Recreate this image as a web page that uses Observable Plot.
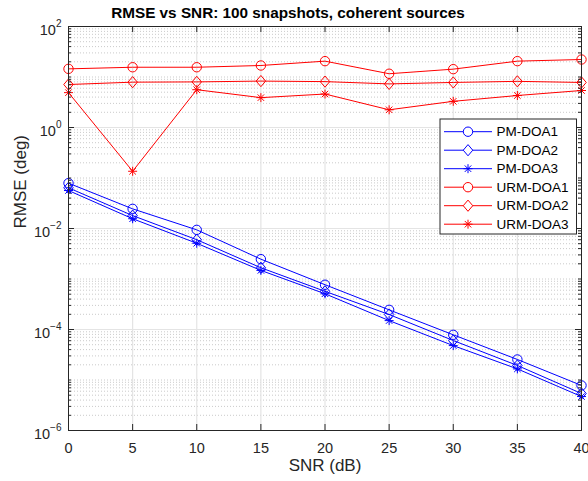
<!DOCTYPE html>
<html>
<head>
<meta charset="utf-8">
<script src="https://cdn.jsdelivr.net/npm/d3@7"></script>
<script src="https://cdn.jsdelivr.net/npm/@observablehq/plot@0.6"></script>
<style>
  html, body { margin: 0; padding: 0; background: #fff; }
  #chart { width: 588px; height: 481px; }
</style>
</head>
<body>
<div id="chart"></div>
<script>
// ---------- data ----------
const snr = [0, 5, 10, 15, 20, 25, 30, 35, 40];
const pmDoa1 = [0.079, 0.0245, 0.0094, 0.00247, 7.7e-4, 2.45e-4, 7.85e-5, 2.55e-5, 7.8e-6];
const pmDoa2 = [0.064, 0.018, 0.0060, 0.00167, 5.7e-4, 1.98e-4, 6.05e-5, 1.94e-5, 5.4e-6];
const pmDoa3 = [0.0565, 0.0156, 0.0051, 0.00148, 5.1e-4, 1.5e-4, 4.8e-5, 1.66e-5, 4.7e-6];
const urmDoa1 = [14.5, 15.6, 15.6, 16.9, 20.6, 11.6, 14.3, 20.6, 22.2];
const urmDoa2 = [7.1, 7.9, 8.0, 8.3, 8.1, 7.3, 7.8, 8.2, 7.8];
const urmDoa3 = [4.9, 0.136, 5.6, 3.9, 4.6, 2.24, 3.3, 4.3, 5.4];
const seriesNames = ["PM-DOA1", "PM-DOA2", "PM-DOA3", "URM-DOA1", "URM-DOA2", "URM-DOA3"];
const seriesValues = [pmDoa1, pmDoa2, pmDoa3, urmDoa1, urmDoa2, urmDoa3];

const xTicks = [0, 5, 10, 15, 20, 25, 30, 35, 40];
const yLabelTicks = [1e-6, 1e-4, 1e-2, 1, 1e2];
const yDecades = [1e-6, 1e-5, 1e-4, 1e-3, 1e-2, 1e-1, 1, 1e1, 1e2];
const minorMultipliers = [2, 3, 4, 5, 6, 7, 8, 9];

const titleText = "RMSE vs SNR: 100 snapshots, coherent sources";
const xLabelText = "SNR (dB)";
const yLabelText = "RMSE (deg)";

// ---------- styles ----------
const FONT = "'Liberation Sans', Arial, Helvetica, sans-serif";
const BLUE = "#0000ff", RED = "#ff0000", AX = "#262626";

const diamondSym = {
  draw(ctx, size) {
    const r = Math.sqrt(size / Math.PI);
    ctx.moveTo(0, -r * 1.12);
    ctx.lineTo(r * 0.95, 0);
    ctx.lineTo(0, r * 1.12);
    ctx.lineTo(-r * 0.95, 0);
    ctx.closePath();
  }
};
const starSym = {
  draw(ctx, size) {
    const r = Math.sqrt(size / Math.PI);
    const d = r * 0.72;
    ctx.moveTo(0, -r); ctx.lineTo(0, r);
    ctx.moveTo(-r, 0); ctx.lineTo(r, 0);
    ctx.moveTo(-d, -d); ctx.lineTo(d, d);
    ctx.moveTo(-d, d); ctx.lineTo(d, -d);
  }
};
const styles = [
  {color: BLUE, symbol: "circle", r: 4.7},
  {color: BLUE, symbol: diamondSym, r: 5},
  {color: BLUE, symbol: starSym, r: 4.5},
  {color: RED, symbol: "circle", r: 4.7},
  {color: RED, symbol: diamondSym, r: 5},
  {color: RED, symbol: starSym, r: 4.5}
];

// ---------- derived tables ----------
const series = seriesNames.map((name, i) => ({
  name,
  rows: snr.map((s, j) => ({snr: s, rmse: seriesValues[i][j], series: name})),
  ...styles[i]
}));
const yMinor = [];
for (let i = 0; i < yDecades.length - 1; i++) {
  for (const m of minorMultipliers) yMinor.push(m * yDecades[i]);
}
const yOddDecades = yDecades.filter(d => !yLabelTicks.includes(d));
const yMinorAll = yMinor.concat(yOddDecades);

const W = 588, H = 481, ML = 68, MR = 7, MT = 26, MB = 51;
const FW = W - ML - MR, FH = H - MT - MB;

const marks = [
  Plot.ruleY(yMinorAll, {y: d => d, stroke: "#bdbdbd", strokeDasharray: "1,2", strokeWidth: 0.8}),
  Plot.ruleX(xTicks.slice(1, -1), {x: d => d, stroke: "#e4e4e4", strokeWidth: 1.2}),
  Plot.ruleY(yLabelTicks.slice(1, -1), {y: d => d, stroke: "#e4e4e4", strokeWidth: 1.2}),
];
for (const s of series) {
  marks.push(Plot.line(s.rows, {x: "snr", y: "rmse", stroke: s.color, strokeWidth: 1}));
  marks.push(Plot.dot(s.rows, {x: "snr", y: "rmse", stroke: s.color, fill: "none", symbol: s.symbol, r: s.r, strokeWidth: 1}));
}
marks.push(
  Plot.tickX(xTicks, {x: d => d, insetTop: FH - 6, stroke: AX}),
  Plot.tickX(xTicks, {x: d => d, insetBottom: FH - 6, stroke: AX}),
  Plot.tickY(yLabelTicks, {y: d => d, insetRight: FW - 6, stroke: AX}),
  Plot.tickY(yLabelTicks, {y: d => d, insetLeft: FW - 6, stroke: AX}),
  Plot.tickY(yMinorAll, {y: d => d, insetRight: FW - 3, stroke: AX}),
  Plot.tickY(yMinorAll, {y: d => d, insetLeft: FW - 3, stroke: AX}),
  Plot.frame({stroke: AX, strokeWidth: 1}),
  Plot.axisX(xTicks, {tickSize: 0, tickPadding: 12, fontSize: 14.5, fill: AX, label: null}),
  Plot.axisY(yLabelTicks, {anchor: "left", tickSize: 0, tickPadding: 7, fontSize: 14.5, fill: AX, label: null, dy: 3.5,
    tickFormat: d => "10^" + Math.round(Math.log10(d))}),
  Plot.text([xLabelText], {frameAnchor: "bottom", dy: 40.8, fontSize: 17, fill: AX, text: d => d}),
  Plot.text([yLabelText], {frameAnchor: "left", rotate: -90, dx: -48.4, fontSize: 17, fill: AX, text: d => d})
);

const plot = Plot.plot({
  width: W, height: H,
  marginLeft: ML, marginRight: MR, marginTop: MT, marginBottom: MB,
  x: {domain: [0, 40], axis: null},
  y: {type: "log", domain: [1e-6, 1e2], axis: null},
  style: {fontFamily: FONT, background: "#fff", overflow: "visible"},
  marks
});
document.getElementById("chart").appendChild(plot);

const svg = d3.select(plot);

// superscript exponents on y tick labels
svg.selectAll('g[aria-label="y-axis tick label"] text').each(function() {
  const t = this.textContent;
  const m = t.match(/^10\^(-?\d+)$/);
  if (!m) return;
  const el = d3.select(this);
  el.text("10");
  el.append("tspan").attr("dy", -8).attr("font-size", 10).text(m[1].replace("-", "\u2212"));
});

// title
svg.append("text")
  .attr("x", 288).attr("y", 18)
  .attr("text-anchor", "middle")
  .attr("font-family", FONT).attr("font-weight", "bold").attr("font-size", 15.3)
  .attr("fill", "#000")
  .text(titleText);

// legend
const lg = svg.append("g").attr("class", "legend").attr("text-anchor", "start");
const LX0 = 440, LX1 = 576.5, LY0 = 119, LY1 = 234;
lg.append("rect").attr("x", LX0).attr("y", LY0).attr("width", LX1 - LX0).attr("height", LY1 - LY0)
  .attr("fill", "#fff").attr("stroke", AX).attr("stroke-width", 1);
series.forEach((s, i) => {
  const cy = 131.7 + i * 18.5;
  lg.append("line").attr("x1", 444).attr("x2", 492).attr("y1", cy).attr("y2", cy)
    .attr("stroke", s.color).attr("stroke-width", 1);
  const symType = s.symbol === "circle" ? d3.symbolCircle : s.symbol;
  lg.append("path")
    .attr("d", d3.symbol().type(symType).size(Math.PI * s.r * s.r)())
    .attr("transform", `translate(468,${cy})`)
    .attr("fill", "#fff").attr("stroke", s.color).attr("stroke-width", 1);
  lg.append("text").attr("x", 496.5).attr("y", cy).attr("dy", "0.35em")
    .attr("text-anchor", "start")
    .attr("font-family", FONT).attr("font-size", 13.5).attr("fill", "#000")
    .text(s.name);
});
</script>
</body>
</html>
